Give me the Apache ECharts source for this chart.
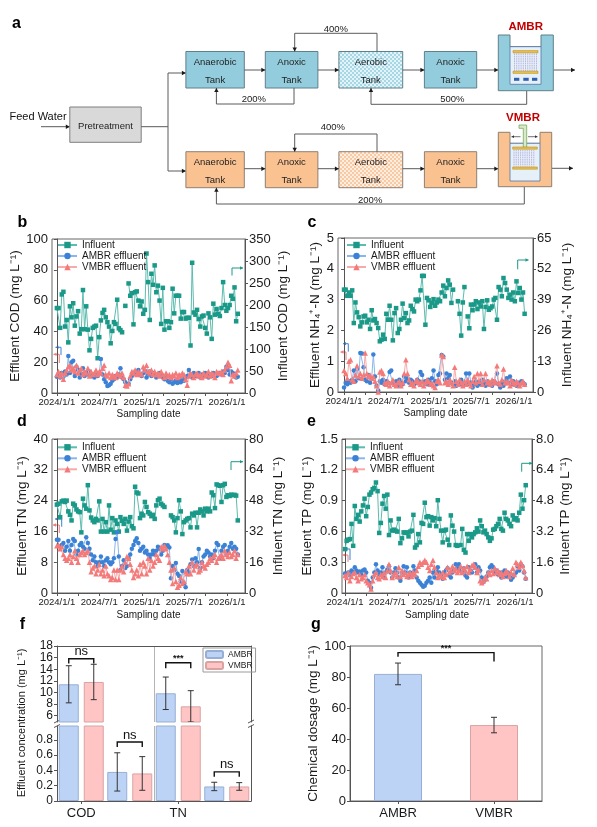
<!DOCTYPE html>
<html><head><meta charset="utf-8">
<script src="https://cdn.jsdelivr.net/npm/echarts@6/dist/echarts.min.js"></script>
<style>html,body{margin:0;padding:0;background:#fff}#c{width:597px;height:827px}</style>
</head><body><div id="c"></div>
<script>
const FONT = 'Liberation Sans, Arial, Helvetica, sans-serif';

// ---- sampling schedule (weekly, day offsets from 2024/1/1) ----
const sampleStepDays = 7;
const dateTickDays = [0, 182, 366, 547, 731];
const dateTickLabels = ['2024/1/1', '2024/7/1', '2025/1/1', '2025/7/1', '2026/1/1'];
const dateMinorTickDays = [0, 91, 182, 274, 366, 456, 547, 639, 731];

// ---- panel b: COD ----
const codInfluent = [
 193,193,148,224,230,151,166,115,197,172,
 204,153,174,186,135,145,234,145,197,144,
 97,123,148,151,153,79,127,165,182,189,
 172,161,151,113,141,161,157,212,147,143,
 138,null,198,null,249,221,227,156,229,231,
 210,197,208,180,189,317,252,166,271,246,
 290,229,244,210,157,239,144,163,163,148,
 161,237,181,221,221,221,169,184,184,169,
 171,171,108,296,183,178,189,168,151,174,
 176,148,135,181,172,123,203,178,191,180,
 175,193,252,200,187,193,200,221,214,240,
 163,180];
const codAMBR = [
 10.5,11,10,13,10.5,14,12,24,13,20,
 21,11,17,15,10,12.5,16,11,13,12,
 14,12,11,10,12,11,13,22,12,9,
 7,4.5,5,6,8,9,11,10,12,16,
 10,9,7,5.5,6,9,11,12.5,14,13,
 15,12,11,13,14.5,10,12,14,11,13,
 12,10,11,13,12,10,9,11,8,7,
 9,6,7,8,6.5,8,7,9,8,10,
 11,15,12,10,13,11,12,13,10,12,
 11,13,12,10,12,11,13,12,11,12,
 13,12,14,13,17,15,12,14,13,11,
 10,10.5];
const codVMBR = [
 12,14,11,13,9,13,15,17,18,15,
 16,14,18,13,15,16,12,14,13,16,
 11,14,12,13,15,12,14,13,16,18,
 12,11,13,10,12,11,10,13,12,11,
 13,10,5,4.5,6,11,14,13,15,12,
 14,13,12,17,15,18,14,13,15,12,
 14,12,13,11,14,12,10,13,11,12,
 10,12,11,13,10,12,11,13,12,9,
 5,11,13,12,10,12,13,11,12,10,
 13,11,12,14,11,13,12,10,14,13,
 13,14,12,15,17,20,18,8,12,11,
 13,15];

// ---- panel c: NH4+-N ----
const nh4Influent = [
 43.2,43.2,40.6,42,40.6,42.9,29.1,37.8,33.6,31.6,
 27.7,29.4,31.9,32.2,29.4,30.5,26.6,34.5,30.2,30.8,
 29.1,27,21.4,22.1,24.2,22.4,33,30.5,36.4,30.5,
 21.8,33.3,35.4,24.9,26.6,30.5,37.3,31.2,33.3,29.1,
 30.2,36.4,35,34,39,38.3,39,42.9,49,49,
 28.4,39.7,38.7,35.9,37.6,39.2,36.4,37.8,39,38.3,
 42,44.9,40.4,43.9,47.1,45.3,37.6,43.2,null,null,
 38.3,33,23.8,37.8,44.3,null,31.9,26.9,36.9,34.5,
 36.9,38.3,35,37.8,36.1,38.3,26.6,35.9,38.7,34.7,
 35.4,36.1,39,39.7,30.5,44.3,43.2,40.4,48.1,46,
 43.2,39.7,41.1,39,42,38.3,46.7,41.8,43.9,39,
 42,33];
const nh4AMBR = [
 0.15,0.3,0.25,0.35,0.3,0.4,0.7,0.35,0.75,0.45,
 1.27,1.25,0.8,0.4,0.35,0.55,0.3,0.45,1.22,0.5,
 0.2,0.05,0.35,0.3,0.4,0.25,0.35,0.3,0.65,0.7,
 0.3,0.25,0.35,0.2,0.4,0.3,0.25,0.5,0.35,0.45,
 0.3,0.4,0.35,0.25,0.3,0.4,0.35,0.65,0.55,0.3,
 0.35,0.25,0.4,0.3,0.45,0.7,0.35,0.25,0.55,0.6,
 1.2,1.15,0.4,0.6,0.45,0.55,0.3,0.25,0.35,0.2,
 0.3,0.25,0.4,0.2,0.3,0.6,0.25,0.6,0.3,0.15,
 0.25,0.35,0.2,0.3,0.25,0.4,0.3,0.2,0.35,0.25,
 0.3,0.2,0.35,0.3,0.6,0.25,0.15,0.3,0.2,0.35,
 0.45,0.3,0.5,0.25,0.35,0.3,0.2,0.3,0.25,0.35,
 0.3,0.25];
const nh4VMBR = [
 0.7,0.6,0.45,1.0,1.05,0.4,0.35,0.55,0.85,0.5,
 0.6,0.45,0.55,1.27,0.6,0.5,0.55,0.45,0.5,0.35,
 0.2,0.0,0.65,0.7,0.6,0.3,0.25,0.35,0.2,0.3,
 0.4,0.25,0.2,0.3,0.35,0.2,0.3,0.6,1.05,0.6,
 0.4,0.25,0.3,0.2,0.35,0.4,0.3,0.25,0.35,0.2,
 0.3,0.4,0.35,0.25,0.3,0.2,0.15,0.35,0.4,0.3,
 1.2,1.15,0.3,0.35,0.25,0.4,0.3,0.2,0.8,0.35,
 0.25,0.4,0.3,0.2,0.35,0.25,0.4,0.3,0.2,0.35,
 0.5,0.3,0.6,0.35,0.6,0.25,0.4,0.6,0.3,0.35,
 0.25,0.4,0.3,0.35,0.85,0.3,0.25,0.4,0.75,0.3,
 0.35,0.3,0.2,0.4,0.3,0.25,0.35,0.3,0.2,0.3,
 0.35,0.25];

// ---- panel d: TN ----
const tnInfluent = [
 45.9,46.4,39.4,47.6,48,47.3,48,42.4,40.6,37.7,
 46.4,45.5,43.4,42.4,42,31.5,49,45.5,43.8,56,
 42.9,39.2,37.7,36.8,38.5,37.7,47.6,31.9,38.5,31.9,
 36.8,31.9,45.5,32.9,38.9,31.5,37.7,35.9,31.9,39.4,
 37.5,35.9,38.5,32.4,37.1,39.4,34.7,33.6,55.2,52.2,
 51.7,38.9,41.2,40.3,47.3,44.7,42,41.2,39.9,40.6,
 38.5,45.5,48.2,49,46.4,45.5,44.7,null,null,null,
 40.3,39.4,37.7,31.5,38.9,48.2,42.4,30.6,36.8,37.7,
 38.5,38.9,34.1,41.2,40.3,41.7,34.1,41.7,43.4,42.4,
 40.3,43.8,42.4,43.8,42.4,52.2,50.8,44.1,56.4,56,
 55.7,47.3,56,56.7,49.9,50.8,50.4,51.1,50.8,51,
 50.6,37.7];
const tnAMBR = [
 13.8,13.8,12,12.5,13,11,12,13.5,11,12.5,
 14,13.5,10,11,12.5,13,12,11.5,14.5,13,
 11.5,10,8.5,9.5,8,7,8,9.5,8,7,
 8.5,9,8,7.5,8,9,14,15.8,9.5,6,
 7,8.5,6.5,7,9,10,11.5,12.5,13.5,14.2,
 13,11,11.5,12,10.5,11,10,9,10,11,
 10,11,12,11.5,10,11,12.5,12,12.4,11.8,
 3.8,7,6,7.8,5,4.4,3,5.7,2.5,1.5,
 6,5.5,7.5,8.7,7,9,8,11.4,6.5,8,
 9.5,10,11,10.5,9.5,10,9,11,13,12.5,
 9,11,12,12.5,10,11,12,13,11.5,12,
 11.5,10];
const tnVMBR = [
 12.3,12.5,11.5,12,10,9,8.5,9,10,8,
 9.5,11,9,8,10,10.5,11,10,10.5,11,
 8,5.5,6.5,7,5,6,7.5,5,6,4.5,
 7,5,4.5,3.5,4,6,3.5,6,3.5,6,
 7,5.5,8,9.5,9,7.5,6,4,5,6,
 4.5,7.5,5,8,7,5,9,6,8.5,7,
 8,10,9,8.5,12,11.5,12.3,11.5,10,8,
 6,2.5,6.5,3,1.5,2,4,2.5,3,5.5,
 5,7,5,8,6,7,7.5,5.5,6,8,
 7,6.5,7.5,8,9,8.5,9.5,10,8,9,
 9.5,10,9,11,10,9.5,10.5,9.5,10,11,
 9,10];

// ---- panel e: TP ----
const tpInfluent = [
 2.28,2.71,2.77,2.8,3.59,2.45,4.52,3.85,4.06,3.71,
 4.24,4.55,4.9,3.99,4.47,5.11,5.22,5.39,5.46,5.74,
 5.29,3.12,3.64,4.64,5.04,4.38,5.11,3.01,3.77,3.24,
 3.29,3.24,3.19,3.85,2.59,2.84,3.15,3.12,3.15,2.94,
 3.19,3.24,4.06,2.36,2.49,3.06,2.63,3.64,3.59,4.69,
 3.94,3.99,3.5,3.94,3.77,3.89,3.47,4.82,3.85,3.24,
 2.63,3.24,3.29,2.77,2.49,4.03,3.5,3.19,2.49,2.45,
 null,2.49,3.33,2.24,2.1,3.06,2.71,3.06,2.89,3.06,
 3.15,3.36,3.19,3.77,3.47,3.15,3.24,3.06,2.89,2.71,
 2.84,3.29,3.33,3.47,3.59,3.85,3.33,3.24,4.17,3.85,
 3.77,3.59,3.47,4.03,3.82,3.89,3.77,4.17,5.11,4.38,
 4.82,5.6];
const tpAMBR = [
 0.19,0.18,0.2,0.17,0.22,0.2,0.25,0.22,0.2,0.21,
 0.18,0.22,0.23,0.2,0.12,0.1,0.05,0.15,0.2,0.28,
 0.22,0.18,0.2,0.25,0.15,0.2,0.23,0.26,0.2,0.15,
 0.2,0.24,0.2,0.15,0.12,0.2,0.26,0.2,0.25,0.15,
 0.2,0.18,0.26,0.22,0.15,0.12,0.1,0.08,0.06,0.07,
 0.1,0.12,0.15,0.1,0.2,0.15,0.22,0.25,0.2,0.18,
 0.14,0.2,0.22,0.24,0.17,0.15,0.2,0.22,0.28,0.24,
 0.28,0.22,0.2,0.24,0.17,0.15,0.25,0.22,0.2,0.26,
 0.28,0.2,0.25,0.22,0.15,0.11,0.13,0.16,0.2,0.25,
 0.27,0.25,0.2,0.22,0.18,0.2,0.15,0.2,0.22,0.16,
 0.2,0.18,0.13,0.15,0.18,0.2,0.26,0.22,0.28,0.26,
 0.2,0.14];
const tpVMBR = [
 0.17,0.15,0.2,0.12,0.16,0.19,0.2,0.15,0.12,0.18,
 0.14,0.15,0.18,0.12,0.1,0.08,0.04,0.12,0.18,0.2,
 0.15,0.14,0.18,0.16,0.2,0.15,0.22,0.28,0.22,0.15,
 0.18,0.2,0.16,0.25,0.16,0.22,0.18,0.2,0.16,0.18,
 0.2,0.16,0.2,0.18,0.22,0.26,0.3,0.28,0.3,0.32,
 0.3,0.25,0.22,0.28,0.32,0.25,0.2,0.15,0.18,0.16,
 0.2,0.15,0.18,0.25,0.2,0.22,0.26,0.22,0.24,0.2,
 0.22,0.26,0.2,0.24,0.22,0.26,0.2,0.23,0.27,0.28,
 0.25,0.2,0.23,0.12,0.1,0.12,0.15,0.14,0.2,0.18,
 0.22,0.19,0.24,0.2,0.22,0.18,0.2,0.16,0.19,0.22,
 0.2,0.16,0.2,0.24,0.18,0.3,0.28,0.25,0.3,0.27,
 0.22,0.15];

// ---- panel f: mean effluent ± SD ----
const fCategories = ['COD', 'NH₄⁺-N', 'TN', 'TP'];
const fAMBRMean = [11.4, 0.38, 9.85, 0.19];
const fAMBRSd = [3.2, 0.25, 2.8, 0.055];
const fVMBRMean = [11.8, 0.36, 7.6, 0.19];
const fVMBRSd = [3.05, 0.22, 2.7, 0.05];
const fSigLabels = ['ns', 'ns', '***', 'ns'];
const fSigLevel = [15.8, 0.77, 15.1, 0.38];
const fSigLegLow = [15.0, 0.705, 14.15, 0.317];
const fUpperTicksA = [6, 10, 14, 18];
const fUpperTicksB = [8, 12, 16];
const fLowerTicks = [0, 0.2, 0.4, 0.6, 0.8];

// ---- panel g: chemical dosage ----
const gCategories = ['AMBR', 'VMBR'];
const gMean = [82, 49];
const gSd = [7, 5];
const gSigLabel = '***';
const gSigLevel = 95.7;
const gSigLegLow = [93, 90];

// ---------------- styling ----------------
const C = {
  inf: '#1a9988', infLine: '#5cbcae',
  amb: '#3b82d6', ambLine: '#8ab6ea',
  vmb: '#f47a7a', vmbLine: '#f7aaaa',
  barA: '#bcd3f6', barAEdge: '#97afd4',
  barV: '#ffc4c4', barVEdge: '#d9a3a3',
  axis: '#555', text: '#1a1a1a'
};

const pairs = vals => vals.map((v, i) => [i * sampleStepDays, v == null ? '-' : v]);
const f1 = v => (v === 0 ? '0' : v.toFixed(1));
const f0 = v => String(v);

const panels = [
  { grid: {left: 52, top: 239, width: 193, height: 154}, xr: [-21, 808], nameGap: 16,
    L: {min: 0, max: 100, interval: 20, name: 'Effluent COD (mg L⁻¹)', gap: 30, fmt: f0},
    R: {min: 0, max: 350, interval: 50, name: 'Influent COD (mg L⁻¹)', gap: 31, fmt: f0},
    legend: {left: 57, top: 239.5}, inf: codInfluent, a: codAMBR, v: codVMBR },
  { grid: {left: 338, top: 238, width: 195, height: 154}, xr: [-26, 813], nameGap: 16,
    L: {min: 0, max: 5, interval: 1, name: 'Effluent NH₄⁺-N (mg L⁻¹)', gap: 16, fmt: f0},
    R: {min: 0, max: 65, interval: 13, name: 'Influent NH₄⁺-N (mg L⁻¹)', gap: 27, fmt: f0},
    legend: {left: 346, top: 239.5}, inf: nh4Influent, a: nh4AMBR, v: nh4VMBR },
  { grid: {left: 52, top: 439, width: 193, height: 154}, xr: [-21, 808], nameGap: 17,
    L: {min: 0, max: 40, interval: 8, name: 'Effluent TN (mg L⁻¹)', gap: 22, fmt: f0},
    R: {min: 0, max: 80, interval: 16, name: 'Influent TN (mg L⁻¹)', gap: 26, fmt: f0},
    legend: {left: 57, top: 441.8}, inf: tnInfluent, a: tnAMBR, v: tnVMBR },
  { grid: {left: 342, top: 439, width: 190, height: 154}, xr: [-13, 804], nameGap: 17,
    L: {min: 0, max: 1.5, interval: 0.3, name: 'Effluent TP (mg L⁻¹)', gap: 28, fmt: f1},
    R: {min: 0, max: 8, interval: 1.6, name: 'Influent TP (mg L⁻¹)', gap: 24, fmt: f1},
    legend: {left: 345, top: 441.8}, inf: tpInfluent, a: tpAMBR, v: tpVMBR }
];

const grids = [], xAxes = [], yAxes = [], legends = [], series = [];

function yAx(gi, side, cfg) {
  return {type: 'value', gridIndex: gi, position: side, min: cfg.min, max: cfg.max, interval: cfg.interval,
    name: cfg.name, nameLocation: 'middle', nameGap: cfg.gap, nameRotate: 90,
    nameTextStyle: {fontSize: 13.5, color: C.text, fontFamily: FONT},
    axisLine: {show: true, lineStyle: {color: C.axis}},
    axisTick: {show: true, inside: false, length: 3, lineStyle: {color: C.axis}},
    axisLabel: {fontSize: 13, color: C.text, margin: 4, formatter: cfg.fmt, showMinLabel: true, showMaxLabel: true},
    splitLine: {show: false}};
}

panels.forEach((p, k) => {
  grids.push(Object.assign({show: true, borderColor: '#666', borderWidth: 1, backgroundColor: 'transparent'}, p.grid));
  xAxes.push({type: 'value', gridIndex: k, min: p.xr[0], max: p.xr[1],
    name: 'Sampling date', nameLocation: 'middle', nameGap: p.nameGap,
    nameTextStyle: {fontSize: 10, color: C.text},
    axisLine: {show: true, onZero: false, lineStyle: {color: C.axis}},
    axisTick: {show: true, inside: false, length: 3, customValues: dateMinorTickDays, lineStyle: {color: C.axis}},
    axisLabel: {customValues: dateTickDays, fontSize: 9.5, margin: 4.5, color: C.text, showMinLabel: true, showMaxLabel: true,
      formatter: v => { const i = dateTickDays.indexOf(v); return i >= 0 ? dateTickLabels[i] : ''; }},
    splitLine: {show: false}});
  yAxes.push(yAx(k, 'left', p.L));
  yAxes.push(yAx(k, 'right', p.R));
  legends.push({left: p.legend.left, top: p.legend.top, orient: 'vertical', padding: 0, itemGap: 0,
    itemWidth: 19, itemHeight: 8, selectedMode: false,
    textStyle: {fontSize: 10, color: C.text, lineHeight: 11},
    data: ['Influent', 'AMBR effluent', 'VMBR effluent']});
  series.push({name: 'Influent', type: 'line', xAxisIndex: k, yAxisIndex: 2 * k + 1, data: pairs(p.inf),
    symbol: 'rect', symbolSize: 4.5, showAllSymbol: true, connectNulls: false,
    itemStyle: {color: C.inf}, lineStyle: {color: C.infLine, width: 1}, z: 3});
  series.push({name: 'AMBR effluent', type: 'line', xAxisIndex: k, yAxisIndex: 2 * k, data: pairs(p.a),
    symbol: 'circle', symbolSize: 4.5, showAllSymbol: true,
    itemStyle: {color: C.amb}, lineStyle: {color: C.ambLine, width: 1}, z: 4});
  series.push({name: 'VMBR effluent', type: 'line', xAxisIndex: k, yAxisIndex: 2 * k, data: pairs(p.v),
    symbol: 'triangle', symbolSize: 5.5, showAllSymbol: true,
    itemStyle: {color: C.vmb}, lineStyle: {color: C.vmbLine, width: 1}, z: 5});
});

// ---------------- panel f (broken axis: two stacked grids) ----------------
const fUpperMin = 4.9, fUpperMax = 18, fLowerMax = 0.98;
const BAR_W = 20, BAR_GAP_PX = 5;
const barOff = (BAR_W + BAR_GAP_PX) / 2;
grids.push({left: 57, top: 646, width: 194, height: 76}); // 4
grids.push({left: 57, top: 726, width: 194, height: 75}); // 5
grids.push({left: 350, top: 646, width: 192, height: 155, show: true, borderColor: '#666', borderWidth: 1}); // 6

xAxes.push({type: 'category', gridIndex: 4, position: 'top', data: fCategories,
  axisLine: {show: true, lineStyle: {color: C.axis}}, axisTick: {show: false}, axisLabel: {show: false},
  splitLine: {show: true, lineStyle: {color: '#b5b5b5', width: 1}}});
xAxes.push({type: 'category', gridIndex: 5, position: 'bottom', data: fCategories,
  axisLine: {show: true, lineStyle: {color: C.axis}},
  axisTick: {show: true, alignWithLabel: true, inside: false, length: 3, lineStyle: {color: C.axis}},
  axisLabel: {fontSize: 13, color: C.text, margin: 6},
  splitLine: {show: true, lineStyle: {color: '#b5b5b5', width: 1}}});
xAxes.push({type: 'category', gridIndex: 6, data: gCategories,
  axisLine: {show: true, lineStyle: {color: C.axis}},
  axisTick: {show: true, alignWithLabel: true, inside: false, length: 3, lineStyle: {color: C.axis}},
  axisLabel: {fontSize: 13, color: C.text, margin: 6}, splitLine: {show: false}});

const lineOnly = {show: true, lineStyle: {color: C.axis}};
function fUpperAxis(ticks, withLine) {
  return {type: 'value', gridIndex: 4, position: 'left', min: fUpperMin, max: fUpperMax,
    axisLine: withLine ? lineOnly : {show: false},
    axisTick: {show: true, inside: false, length: 3, customValues: ticks, lineStyle: {color: C.axis}},
    axisLabel: {customValues: ticks, fontSize: 12, color: C.text, margin: 4, showMinLabel: true, showMaxLabel: true},
    splitLine: {show: false}};
}
yAxes.push(fUpperAxis(fUpperTicksA, true)); // 8
yAxes.push({type: 'value', gridIndex: 4, position: 'right', min: fUpperMin, max: fUpperMax, axisLine: lineOnly,
  axisTick: {show: false}, axisLabel: {show: false}, splitLine: {show: false}}); // 9
yAxes.push({type: 'value', gridIndex: 5, min: 0, max: fLowerMax, axisLine: lineOnly,
  axisTick: {show: true, inside: false, length: 3, customValues: fLowerTicks, lineStyle: {color: C.axis}},
  axisLabel: {customValues: fLowerTicks, fontSize: 12, color: C.text, margin: 4, formatter: f1,
    showMinLabel: true, showMaxLabel: true}, splitLine: {show: false}}); // 10
yAxes.push({type: 'value', gridIndex: 5, position: 'right', min: 0, max: fLowerMax, axisLine: lineOnly,
  axisTick: {show: false}, axisLabel: {show: false}, splitLine: {show: false}}); // 11
yAxes.push({type: 'value', gridIndex: 6, min: 0, max: 100, interval: 20,
  name: 'Chemical dosage (mg L⁻¹)', nameLocation: 'middle', nameGap: 30, nameRotate: 90,
  nameTextStyle: {fontSize: 13.5, color: C.text},
  axisLine: lineOnly, axisTick: {show: true, inside: false, length: 3, lineStyle: {color: C.axis}},
  axisLabel: {fontSize: 13, color: C.text, margin: 4, showMinLabel: true, showMaxLabel: true}, splitLine: {show: false}}); // 12
const upperB = fUpperAxis(fUpperTicksB, false);
upperB.offset = 0;
yAxes.push(upperB); // 13

legends.push({left: 203, top: 648, orient: 'vertical', padding: [2, 3, 2, 2], itemGap: 2,
  itemWidth: 17, itemHeight: 7, selectedMode: false, borderColor: '#9a9a9a', borderWidth: 1,
  textStyle: {fontSize: 8.5, color: C.text, lineHeight: 9}, data: ['AMBR', 'VMBR']});

const barStyleA = {color: C.barA, borderColor: C.barAEdge, borderWidth: 1};
const barStyleV = {color: C.barV, borderColor: C.barVEdge, borderWidth: 1};
const upperOnly = arr => arr.map(v => (v >= fUpperMin ? v : '-'));
const barGapPct = (BAR_GAP_PX / BAR_W * 100) + '%';
series.push({name: 'AMBR', type: 'bar', xAxisIndex: 4, yAxisIndex: 8, data: upperOnly(fAMBRMean), barWidth: BAR_W, barGap: barGapPct, itemStyle: barStyleA, clip: true});
series.push({name: 'VMBR', type: 'bar', xAxisIndex: 4, yAxisIndex: 8, data: upperOnly(fVMBRMean), barWidth: BAR_W, barGap: barGapPct, itemStyle: barStyleV, clip: true});
series.push({name: 'AMBR', type: 'bar', xAxisIndex: 5, yAxisIndex: 10, data: fAMBRMean, barWidth: BAR_W, barGap: barGapPct, itemStyle: barStyleA, clip: true});
series.push({name: 'VMBR', type: 'bar', xAxisIndex: 5, yAxisIndex: 10, data: fVMBRMean, barWidth: BAR_W, barGap: barGapPct, itemStyle: barStyleV, clip: true});

const ES = {stroke: '#333', lineWidth: 1};
function errRender(off) {
  return function (params, api) {
    const lo = api.coord([api.value(0), api.value(1)]);
    const hi = api.coord([api.value(0), api.value(2)]);
    const x = lo[0] + off, h = 3;
    return {type: 'group', children: [
      {type: 'line', shape: {x1: x, y1: lo[1], x2: x, y2: hi[1]}, style: ES},
      {type: 'line', shape: {x1: x - h, y1: lo[1], x2: x + h, y2: lo[1]}, style: ES},
      {type: 'line', shape: {x1: x - h, y1: hi[1], x2: x + h, y2: hi[1]}, style: ES}]};
  };
}
function errData(mean, sd, upper) {
  const out = [];
  mean.forEach((m, i) => { if ((m >= fUpperMin) === upper) out.push([i, m - sd[i], m + sd[i]]); });
  return out;
}
[[4, 8, true], [5, 10, false]].forEach(([xi, yi, up]) => {
  series.push({type: 'custom', xAxisIndex: xi, yAxisIndex: yi, renderItem: errRender(-barOff), data: errData(fAMBRMean, fAMBRSd, up), z: 10, clip: true});
  series.push({type: 'custom', xAxisIndex: xi, yAxisIndex: yi, renderItem: errRender(barOff), data: errData(fVMBRMean, fVMBRSd, up), z: 10, clip: true});
  const br = [];
  fSigLevel.forEach((lv, i) => { if ((lv >= fUpperMin) === up) br.push([i, lv, fSigLegLow[i]]); });
  series.push({type: 'custom', xAxisIndex: xi, yAxisIndex: yi, data: br, z: 11,
    renderItem: (params, api) => {
      const top = api.coord([api.value(0), api.value(1)]);
      const leg = api.coord([api.value(0), api.value(2)]);
      const x1 = top[0] - barOff, x2 = top[0] + barOff;
      const lab = fSigLabels[api.value(0)];
      const star = lab === '***';
      return {type: 'group', children: [
        {type: 'polyline', shape: {points: [[x1, leg[1]], [x1, top[1]], [x2, top[1]], [x2, leg[1]]]}, style: {stroke: '#111', lineWidth: 1.4, fill: null}},
        {type: 'text', style: {text: lab, x: top[0], y: top[1] - (star ? 0 : 0.5), align: 'center', verticalAlign: 'bottom', textAlign: 'center', textVerticalAlign: 'bottom', font: (star ? 'bold 9px ' : '13px ') + FONT, fill: '#111'}}]};
    }});
});

// panel g bars, error bars, bracket
series.push({type: 'bar', xAxisIndex: 6, yAxisIndex: 12, barWidth: 48,
  data: gMean.map((v, i) => ({value: v, itemStyle: i === 0 ? barStyleA : barStyleV}))});
series.push({type: 'custom', xAxisIndex: 6, yAxisIndex: 12, renderItem: errRender(0), z: 10,
  data: gMean.map((m, i) => [i, m - gSd[i], m + gSd[i]])});
series.push({type: 'custom', xAxisIndex: 6, yAxisIndex: 12, z: 11, data: [[0, 1, gSigLevel, gSigLegLow[0], gSigLegLow[1]]],
  renderItem: (params, api) => {
    const a = api.coord([api.value(0), api.value(2)]);
    const b = api.coord([api.value(1), api.value(2)]);
    const la = api.coord([api.value(0), api.value(3)]);
    const lb = api.coord([api.value(1), api.value(4)]);
    return {type: 'group', children: [
      {type: 'polyline', shape: {points: [[a[0], la[1]], [a[0], a[1]], [b[0], b[1]], [b[0], lb[1]]]}, style: {stroke: '#111', lineWidth: 1.4, fill: null}},
      {type: 'text', style: {text: gSigLabel, x: (a[0] + b[0]) / 2, y: a[1], align: 'center', verticalAlign: 'bottom', textAlign: 'center', textVerticalAlign: 'bottom', font: 'bold 9px ' + FONT, fill: '#111'}}]};
  }});

// ---------------- graphic: panel a diagram + annotations ----------------
const G = [];
const LINE = '#5a5a5a', HEAD = '#1a1a1a';
function seg(points, stroke, w, dash) { G.push({type: 'polyline', silent: true, shape: {points}, style: {stroke: stroke || LINE, lineWidth: w || 1, fill: null, lineDash: dash || null}}); }
function tip(x, y, dir, color, s) {
  s = s || 4; const b = s * 0.55; let p;
  if (dir === 'r') p = [[x, y], [x - s, y - b], [x - s, y + b]];
  else if (dir === 'l') p = [[x, y], [x + s, y - b], [x + s, y + b]];
  else if (dir === 'u') p = [[x, y], [x - b, y + s], [x + b, y + s]];
  else p = [[x, y], [x - b, y - s], [x + b, y - s]];
  G.push({type: 'polygon', silent: true, shape: {points: p}, style: {fill: color || HEAD}});
}
function arrow(points, lineColor, headColor, s, w) {
  seg(points, lineColor, w);
  const n = points.length, [x, y] = points[n - 1], [px, py] = points[n - 2];
  const dir = Math.abs(x - px) > Math.abs(y - py) ? (x > px ? 'r' : 'l') : (y > py ? 'd' : 'u');
  tip(x, y, dir, headColor, s);
}
function rect(x1, y1, x2, y2, fill, stroke, w) { G.push({type: 'rect', silent: true, shape: {x: x1, y: y1, width: x2 - x1, height: y2 - y1}, style: {fill: fill, stroke: stroke || null, lineWidth: w || 1}}); }
function poly(points, fill, stroke, w) { G.push({type: 'polygon', silent: true, shape: {points}, style: {fill, stroke: stroke || null, lineWidth: w || 1}}); }
function txt(x, y, s, font, color, align, rot) {
  G.push({type: 'text', silent: true, x: x, y: y, rotation: rot || 0,
    style: {text: s, font: font, fill: color || '#111', align: align || 'center', verticalAlign: 'middle', textAlign: align || 'center', textVerticalAlign: 'middle'}});
}
function pattern(base, dot) {
  const c = document.createElement('canvas'); c.width = 4; c.height = 4;
  const g = c.getContext('2d'); g.fillStyle = base; g.fillRect(0, 0, 4, 4);
  g.fillStyle = dot; g.fillRect(0, 0, 2, 2); g.fillRect(2, 2, 2, 2);
  return {image: c, repeat: 'repeat'};
}
const BF = '9.5px ' + FONT;
function box(x1, y1, x2, y2, fill, stroke, l1, l2) {
  rect(x1, y1, x2, y2, fill, stroke, 1);
  const cx = (x1 + x2) / 2, h = y2 - y1;
  txt(cx, y1 + h * 0.31, l1, BF, '#222');
  txt(cx, y1 + h * 0.79, l2, BF, '#222');
}

// panel letters
const LF = 'bold 16px ' + FONT;
txt(16.5, 24, 'a', LF, '#000');
txt(22.5, 222.5, 'b', LF, '#000');
txt(312, 222.5, 'c', LF, '#000');
txt(22, 421.5, 'd', LF, '#000');
txt(311.5, 422, 'e', LF, '#000');
txt(22.5, 625, 'f', LF, '#000');
txt(316, 625, 'g', LF, '#000');

// feed + pretreatment
txt(9.5, 116.5, 'Feed Water', '11px ' + FONT, '#111', 'left');
arrow([[41, 126.7], [69.8, 126.7]], LINE, HEAD, 4);
rect(69.8, 107, 141.2, 142.3, '#d9d9d9', '#7f7f7f', 1);
txt(105.5, 126.3, 'Pretreatment', BF, '#222');
seg([[141.2, 126.7], [168, 126.7]]);
seg([[168, 73], [168, 171]]);
arrow([[168, 73], [185.9, 73]], LINE, HEAD, 4);
arrow([[168, 171], [185.9, 171]], LINE, HEAD, 4);

const xs = [[185.9, 244.3], [265.3, 317.9], [338.9, 402.7], [424.4, 476.7]];
const labels = [['Anaerobic', 'Tank'], ['Anoxic', 'Tank'], ['Aerobic', 'Tank'], ['Anoxic', 'Tank']];
const blueFill = '#93cddd', blueEdge = '#5f7f8b', orangeFill = '#fac191', orangeEdge = '#8d8074';
const blueAer = pattern('#e3f3f8', '#a5d7e4'), orangeAer = pattern('#fdeee0', '#f9c9a3');
xs.forEach((xx, i) => box(xx[0], 51.5, xx[1], 88, i === 2 ? blueAer : blueFill, blueEdge, labels[i][0], labels[i][1]));
xs.forEach((xx, i) => box(xx[0], 151.7, xx[1], 187.7, i === 2 ? orangeAer : orangeFill, orangeEdge, labels[i][0], labels[i][1]));
[[244.3, 265.3], [317.9, 338.9], [402.7, 424.4], [476.7, 498.3]].forEach(([a, b]) => {
  arrow([[a, 70], [b, 70]], LINE, HEAD, 4);
  arrow([[a, 168.7], [b, 168.7]], LINE, HEAD, 4);
});
arrow([[553.3, 70], [575, 70]], LINE, HEAD, 4);
arrow([[551.7, 168.3], [573, 168.3]], LINE, HEAD, 4);
const PF = '9.5px ' + FONT;
arrow([[377, 51.5], [377, 33.3], [294.7, 33.3], [294.7, 51.5]], LINE, HEAD, 4);
txt(335.9, 29.3, '400%', PF, '#222');
arrow([[294, 88], [294, 104], [216.4, 104], [216.4, 88]], LINE, HEAD, 4);
txt(253.8, 99, '200%', PF, '#222');
arrow([[526.7, 90.7], [526.7, 104.3], [371, 104.3], [371, 88]], LINE, HEAD, 4);
txt(452.3, 99.3, '500%', PF, '#222');
arrow([[377, 151.7], [377, 134], [294.7, 134], [294.7, 151.7]], LINE, HEAD, 4);
txt(332.8, 127.7, '400%', PF, '#222');
arrow([[524.3, 186.7], [524.3, 204], [216.4, 204], [216.4, 187.7]], LINE, HEAD, 4);
txt(370.2, 200, '200%', PF, '#222');

// AMBR tank
const RED = '#c00000';
txt(525.7, 26.7, 'AMBR', 'bold 11.5px ' + FONT, RED);
poly([[498.3, 35], [510, 35], [510, 46.7], [541, 46.7], [541, 35], [553.3, 35], [553.3, 90.7], [498.3, 90.7]], blueFill, blueEdge, 1);
rect(510, 46.7, 541, 84.3, '#e6f0f8', '#5474a6', 0.8);
for (let x = 514.5; x <= 537; x += 2.2) seg([[x, 53.5], [x, 71]], '#9c8fd0', 0.6, [1.6, 0.7]);
rect(513, 50.6, 538, 52.8, '#f3c13a', '#a88320', 0.5);
rect(513, 71.2, 538, 73.4, '#f3c13a', '#a88320', 0.5);
rect(514, 77.8, 519.3, 80.8, '#2f5fb0');
rect(523.3, 77.8, 528.7, 80.8, '#2f5fb0');
rect(532, 77.8, 537.3, 80.8, '#2f5fb0');

// VMBR tank
txt(523, 118.3, 'VMBR', 'bold 11.5px ' + FONT, RED);
poly([[498.3, 132.3], [510, 132.3], [510, 143.3], [540, 143.3], [540, 132.3], [551.7, 132.3], [551.7, 186.7], [498.3, 186.7]], orangeFill, orangeEdge, 1);
rect(510, 143.3, 540, 181, '#e6f0f8', '#5474a6', 0.8);
for (let x = 514; x <= 536; x += 2.2) seg([[x, 149.8], [x, 166.6]], '#9c8fd0', 0.6, [1.6, 0.7]);
poly([[519, 125], [526.7, 125], [526.7, 147.3], [523.3, 147.3], [523.3, 128.3], [519, 128.3]], '#d7ebc8', '#7aa860', 0.8);
rect(512.7, 147, 537.3, 149.2, '#f3c13a', '#a88320', 0.5);
rect(512.7, 167, 537.3, 169.2, '#f3c13a', '#a88320', 0.5);
arrow([[520.5, 136.7], [511.5, 136.7]], '#333', '#333', 2.5, 0.7);
arrow([[528, 136.7], [537.5, 136.7]], '#333', '#333', 2.5, 0.7);

// axis indicators (which axis each series belongs to)
function indicator(xv, yFrom, yTo, xTip, color) {
  arrow([[xv, yFrom], [xv, yTo], [xTip, yTo]], color, color, 3, 1);
}
indicator(232, 275.5, 268, 243, C.inf);
indicator(61, 355, 347.3, 55.5, C.amb);
indicator(59.3, 363, 354.3, 53.5, C.vmb);
indicator(517.7, 269.3, 260, 528.5, C.inf);
indicator(348.3, 351.7, 343.7, 343, C.amb);
indicator(346, 360, 352, 340.5, C.vmb);
indicator(231, 470, 461.7, 243, C.inf);
indicator(61.7, 526.7, 519, 55, C.amb);
indicator(59.3, 533, 525, 53, C.vmb);
indicator(521.7, 471.7, 463.3, 532.3, C.inf);
indicator(350, 560, 549, 344.5, C.amb);
indicator(348, 562, 555, 342.5, C.vmb);

// panel f y-axis title and break marks
txt(21.5, 723, 'Effluent concentration (mg L⁻¹)', '11px ' + FONT, C.text, 'center', Math.PI / 2);
[57, 251].forEach(x => {
  seg([[x - 3, 723], [x + 3, 720]], '#444', 0.9);
  seg([[x - 3, 727.5], [x + 3, 724.5]], '#444', 0.9);
});

const chart = echarts.init(document.getElementById('c'), null, {renderer: 'canvas'});
chart.setOption({
  animation: false,
  backgroundColor: '#fff',
  textStyle: {fontFamily: FONT},
  grid: grids, xAxis: xAxes, yAxis: yAxes, legend: legends, series: series,
  graphic: G
});
</script>
</body></html>
